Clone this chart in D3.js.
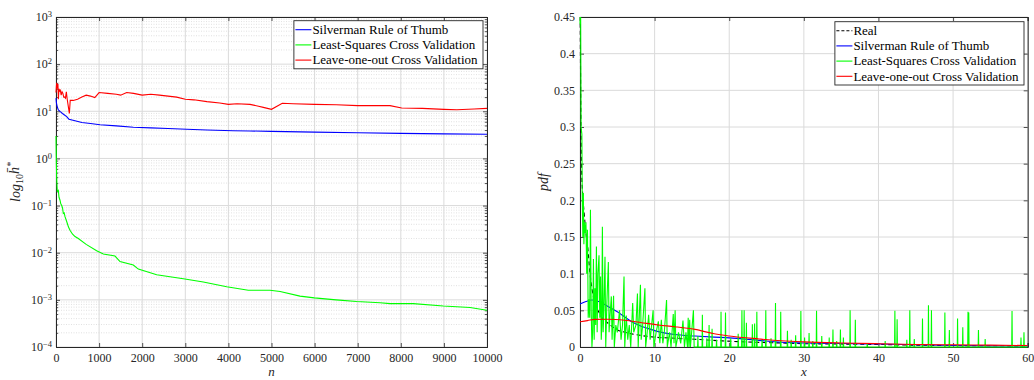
<!DOCTYPE html>
<html><head><meta charset="utf-8">
<script src="https://cdn.jsdelivr.net/npm/d3@7"></script>
<style>body{margin:0;background:#fff}svg{display:block}svg text{font-family:"Liberation Serif","Times New Roman","DejaVu Serif",serif !important;fill:#262626}</style>
</head><body>
<script>
// ---------- Left panel data ----------
const silvN = [0,10,30,54,100,150,248,300,441,600,800,1021,1400,1795,2200,2600,3032,3500,4114,4500,5000,6000,7000,8000,9000,10000];
const silvH = [19,15,12.3,10.7,9.8,9,7.7,6.8,6.3,5.8,5.5,5.2,4.9,4.6,4.45,4.3,4.15,4.0,3.87,3.82,3.75,3.62,3.5,3.4,3.32,3.25];
const lscvN = [0,8,18,30,54,70,93,110,132,150,170,190,209,248,290,325,380,441,518,700,943,1098,1369,1485,1794,1910,2336,2954,3418,3960,4462,4965,5200,5661,5993,6500,6976,7517,7750,8290,8987,9606,10000];
const lscvH = [3,0.8,0.35,0.2,0.21,0.15,0.13,0.11,0.1,0.09,0.068,0.07,0.058,0.046,0.035,0.03,0.025,0.022,0.02,0.015,0.011,0.0094,0.0085,0.0065,0.0055,0.0045,0.0034,0.0028,0.0024,0.0019,0.0016,0.0016,0.0015,0.0012,0.0011,0.001,0.00092,0.00087,0.00083,0.00083,0.00074,0.00069,0.0006];
const looN = [0,15,30,45,55,70,85,100,120,140,160,180,200,220,240,260,290,310,330,360,400,500,600,700,800,900,1000,1200,1400,1500,1640,1800,2000,2200,2400,2600,2800,3000,3200,3500,3800,4000,4200,4500,4700,4810,5000,5250,5500,6000,6500,7000,7500,7750,8020,8500,9000,9300,9700,10000];
const looH = [25,40,30,38,18,30,27,28,22,26,24,20,20,19,26,18,12,9,17,17,17,18,20,22,21,19.5,25,24,23,22,25,24,22,23,22,21,20,18,17.5,16,15,14,14.5,14,12.8,12.1,11,14.8,14.5,14,13.8,13.2,13.2,13.2,11.7,11.5,11,10.8,11.2,11.5];
const leftXTicks = [0,1000,2000,3000,4000,5000,6000,7000,8000,9000,10000];
const leftYExps = [-4,-3,-2,-1,0,1,2,3];
const leftLegend = ["Silverman Rule of Thumb","Least-Squares Cross Validation","Leave-one-out Cross Validation"];

// ---------- Right panel data ----------
const realX = [0.02,0.07,0.13,0.22,0.35,0.58,0.8,1.03,1.34,1.6,2.0,2.5,2.9,3.8,5.1,6.5,8.3,10,12.7,15.4,18.8,22,26.8,30,35,40,45,50,55,60];
const realY = [0.46,0.38,0.30,0.24,0.21,0.18,0.155,0.137,0.10,0.08,0.06,0.048,0.041,0.032,0.023,0.019,0.0155,0.0135,0.012,0.0105,0.0085,0.007,0.0055,0.0045,0.004,0.0035,0.0025,0.002,0.0017,0.0015];
const silvX = [0,0.8,1.6,2.5,3.8,5,6,7,8.3,9.5,10.5,12.7,15.4,18,20,24,27,30,35,40,45,50,55,60];
const silvY = [0.0586,0.062,0.064,0.062,0.055,0.048,0.041,0.034,0.028,0.024,0.021,0.017,0.015,0.0135,0.0125,0.009,0.0065,0.0055,0.0048,0.004,0.003,0.002,0.0016,0.0013];
const looX = [0,1,2,3.8,6,8.3,10.5,12.7,15.4,18,20,24,27,30,35,40,45,50,55,60];
const looY = [0.0345,0.036,0.0377,0.0378,0.0364,0.033,0.030,0.0277,0.024,0.018,0.015,0.011,0.0085,0.007,0.0055,0.0045,0.0035,0.003,0.0025,0.002];
const lscvDenseX = [0,0.08,0.15,0.25,0.3,0.38,0.45,0.52,0.6,0.7,0.8,0.9,1.0,1.1,1.2,1.3,1.4,1.5,1.6,1.7,1.8,1.9,2.0,2.1,2.2,2.3,2.4,2.55,2.65,2.75,2.85,2.92,3.0,3.1,3.2,3.35,3.45,3.6,3.8,3.9,4.0,4.2,4.3,4.5,4.6,4.8,5.0,5.3,5.5,5.7,5.9,6.0,6.2,6.4,6.6,6.8,7.06,7.2,7.5,7.7,7.8,8.1,8.2,8.4,8.7,8.8,9.0,9.2,9.4,9.8,9.9,10.2,10.5,10.7,10.9,11.1,11.3,11.6,11.7,12.0,12.2,12.5,12.6,12.75,12.85,13.2,13.5,13.8,14.0,14.2,14.4,14.5,14.6,14.7,14.8,15.2,15.3];
const lscvDenseY = [0.44,0.47,0.30,0.29,0.205,0.15,0.21,0.14,0.17,0.155,0.17,0.10,0.16,0.04,0.065,0.04,0.187,0.05,0.0,0.02,0.12,0.01,0.08,0.03,0.137,0.02,0.1,0.125,0.04,0.096,0.01,0.03,0.164,0.02,0.05,0.123,0.0,0.06,0.116,0.02,0.04,0.069,0.01,0.07,0.0,0.03,0.02,0.05,0.01,0.03,0.096,0.0,0.043,0.01,0.03,0.0,0.06,0.02,0.03,0.073,0.0,0.085,0.01,0.03,0.08,0.0,0.02,0.044,0.01,0.05,0.0,0.02,0.035,0.005,0.037,0.005,0.02,0.064,0.0,0.02,0.0,0.045,0.005,0.05,0.0,0.02,0.005,0.036,0.0,0.02,0.0,0.04,0.0,0.037,0.0,0.05,0.0];
const lscvSpikeX = [15.8,16.4,17.0,17.3,17.7,18.3,18.9,19.5,20.2,21.2,21.7,22.0,22.3,23.1,23.4,23.7,24.4,24.9,25.6,26.2,26.9,27.8,28.3,28.9,29.6,30.1,30.7,31.2,31.7,32.4,33.4,33.9,34.4,34.9,35.3,36.2,36.9,38.5,40.9,42.2,42.5,43.8,44.2,44.8,45.9,46.7,47.1,48.9,49.5,50.6,51.3,52.0,52.1,53.4,54.3,57.9,59.1,59.5];
const lscvSpikeY = [0.015,0.044,0.012,0.03,0.025,0.01,0.048,0.047,0.012,0.018,0.05,0.05,0.033,0.031,0.032,0.048,0.01,0.05,0.012,0.06,0.048,0.022,0.01,0.016,0.049,0.013,0.019,0.008,0.0495,0.015,0.013,0.024,0.008,0.024,0.013,0.05,0.037,0.005,0.008,0.0495,0.038,0.01,0.05,0.011,0.039,0.057,0.05,0.047,0.023,0.039,0.027,0.048,0.047,0.023,0.011,0.049,0.013,0.02];
const rightXTicks = [0,10,20,30,40,50,60];
const rightYTicks = [0,0.05,0.1,0.15,0.2,0.25,0.3,0.35,0.4,0.45];
const rightLegend = ["Real","Silverman Rule of Thumb","Least-Squares Cross Validation","Leave-one-out Cross Validation"];

const FONT = '"Liberation Serif","Times New Roman","DejaVu Serif",serif';
const svg = d3.select("body").append("svg").attr("width",1034).attr("height",380).style("font-family",FONT);
const AX = "#262626", GRID = "#dadada", MINOR = "#cccccc";

function styleAxis(g){
  g.attr("font-family",null).attr("font-size",null);
  g.select(".domain").attr("stroke",AX).attr("stroke-width",1);
  g.selectAll(".tick line").attr("stroke",AX).attr("stroke-width",0.8);
  g.selectAll("text").style("font-family",FONT).attr("font-size",12).attr("fill",AX);
}

// ============ LEFT PANEL ============
const L = {x0:56,x1:487,y0:17,y1:347};
const lx = d3.scaleLinear().domain([0,10000]).range([L.x0,L.x1]);
const ly = d3.scaleLog().domain([1e-4,1e3]).range([L.y1,L.y0]);
const lg = svg.append("g");
const lMinor = [];
leftYExps.slice(0,-1).forEach(e=>{for(let k=2;k<=9;k++) lMinor.push(k*Math.pow(10,e));});
lg.append("g").selectAll("line").data(lMinor).join("line")
  .attr("x1",L.x0).attr("x2",L.x1).attr("y1",d=>ly(d)).attr("y2",d=>ly(d))
  .attr("stroke",MINOR).attr("stroke-width",0.6).attr("stroke-dasharray","1,1.5");
lg.append("g").selectAll("line").data(leftYExps.map(e=>Math.pow(10,e))).join("line")
  .attr("x1",L.x0).attr("x2",L.x1).attr("y1",d=>ly(d)).attr("y2",d=>ly(d))
  .attr("stroke",GRID).attr("stroke-width",1);
lg.append("g").selectAll("line").data(leftXTicks).join("line")
  .attr("x1",d=>lx(d)).attr("x2",d=>lx(d)).attr("y1",L.y0).attr("y2",L.y1)
  .attr("stroke",GRID).attr("stroke-width",1);

// axes
lg.append("g").attr("transform",`translate(0,${L.y1})`).call(d3.axisBottom(lx).tickValues(leftXTicks).tickSize(-4).tickPadding(6).tickFormat(d3.format("d"))).call(styleAxis);
lg.append("g").attr("transform",`translate(0,${L.y0})`).call(d3.axisTop(lx).tickValues(leftXTicks).tickSize(-4).tickFormat("")).call(styleAxis);
const yAxL = lg.append("g").attr("transform",`translate(${L.x0},0)`).call(d3.axisLeft(ly).tickValues(leftYExps.map(e=>Math.pow(10,e))).tickSize(-4).tickPadding(6).tickFormat("")).call(styleAxis);
yAxL.selectAll(".tick").each(function(d){
  const t=d3.select(this).select("text").attr("text-anchor","end").attr("dy","0.32em").attr("x",-4);
  const e=Math.round(Math.log10(d));
  t.append("tspan").text("10");
  t.append("tspan").attr("dy","-0.5em").attr("font-size",8.5).text(e<0?"\u2212"+(-e):String(e));
});
lg.append("g").attr("transform",`translate(${L.x0},0)`).call(d3.axisLeft(ly).tickValues(lMinor).tickSize(-2.2).tickFormat("")).call(styleAxis).select(".domain").remove();
lg.append("g").attr("transform",`translate(${L.x1},0)`).call(d3.axisRight(ly).tickValues(leftYExps.map(e=>Math.pow(10,e))).tickSize(-4).tickFormat("")).call(styleAxis);
lg.append("g").attr("transform",`translate(${L.x1},0)`).call(d3.axisRight(ly).tickValues(lMinor).tickSize(-2.2).tickFormat("")).call(styleAxis).select(".domain").remove();

svg.append("clipPath").attr("id","clipL").append("rect").attr("x",L.x0-1).attr("y",L.y0).attr("width",L.x1-L.x0+1).attr("height",L.y1-L.y0);
const lline = d3.line().x(d=>lx(d[0])).y(d=>ly(d[1]));
const lp = lg.append("g").attr("clip-path","url(#clipL)");
lp.append("path").datum(silvN.map((n,i)=>[n,silvH[i]])).attr("d",lline).attr("fill","none").attr("stroke","#0000ff").attr("stroke-width",1.1);
lp.append("path").datum(lscvN.map((n,i)=>[n,lscvH[i]])).attr("d",lline).attr("fill","none").attr("stroke","#00ff00").attr("stroke-width",1.1);
lp.append("path").datum(looN.map((n,i)=>[n,looH[i]])).attr("d",lline).attr("fill","none").attr("stroke","#ff0000").attr("stroke-width",1.1);

// labels
lg.append("text").attr("x",(L.x0+L.x1)/2).attr("y",376).attr("text-anchor","middle").attr("font-size",13).attr("font-style","italic").text("n");
const ylab = lg.append("text").attr("transform",`translate(20,${(L.y0+L.y1)/2}) rotate(-90)`).attr("text-anchor","middle").attr("font-size",14).attr("font-style","italic");
ylab.append("tspan").text("log");
ylab.append("tspan").attr("dy","0.3em").attr("font-size",10).attr("font-style","normal").text("10");
ylab.append("tspan").attr("dy","-0.3em").text("h\u0304");
ylab.append("tspan").attr("dy","-0.5em").attr("font-size",10).text("*");

// legend helper
function legend(g, items, colors, dashes, xRight, yTop){
  const rowH = 15.2, pad = 3;
  const lg2 = g.append("g");
  const box = lg2.append("rect").attr("fill","#fff").attr("stroke",AX).attr("stroke-width",0.9);
  const texts = [];
  items.forEach((s,i)=>{
    const y = yTop + 9 + i*rowH;
    texts.push(lg2.append("text").attr("x",0).attr("y",y+4.3).attr("font-size",13).style("fill","#000").text(s));
  });
  const w = d3.max(texts,t=>t.node().getComputedTextLength());
  const boxW = w + 18 + 2*pad;
  const x0 = xRight - boxW;
  box.attr("x",x0).attr("y",yTop).attr("width",boxW).attr("height",items.length*rowH+2.5);
  texts.forEach(t=>t.attr("x",x0+pad+15.5));
  items.forEach((s,i)=>{
    const y = yTop + 9 + i*rowH;
    lg2.append("line").attr("x1",x0+1.5).attr("x2",x0+pad+14.5).attr("y1",y).attr("y2",y)
      .attr("stroke",colors[i]).attr("stroke-width",1.1).attr("stroke-dasharray",dashes[i]);
  });
}
legend(lg, leftLegend, ["#0000ff","#00ff00","#ff0000"], [null,null,null], 483, 20.7);

// ============ RIGHT PANEL ============
const R = {x0:580,x1:1027.7,y0:17,y1:347};
const rx = d3.scaleLinear().domain([0,60]).range([R.x0,R.x1]);
const ry = d3.scaleLinear().domain([0,0.45]).range([R.y1,R.y0]);
const rg = svg.append("g");
rg.append("g").selectAll("line").data(rightYTicks).join("line")
  .attr("x1",R.x0).attr("x2",R.x1).attr("y1",d=>ry(d)).attr("y2",d=>ry(d)).attr("stroke",GRID).attr("stroke-width",1);
rg.append("g").selectAll("line").data(rightXTicks).join("line")
  .attr("x1",d=>rx(d)).attr("x2",d=>rx(d)).attr("y1",R.y0).attr("y2",R.y1).attr("stroke",GRID).attr("stroke-width",1);

const fmtR = v => v===0 ? "0" : String(+v.toFixed(2));
rg.append("g").attr("transform",`translate(0,${R.y1})`).call(d3.axisBottom(rx).tickValues(rightXTicks).tickSize(-4).tickPadding(6).tickFormat(d3.format("d"))).call(styleAxis);
rg.append("g").attr("transform",`translate(0,${R.y0})`).call(d3.axisTop(rx).tickValues(rightXTicks).tickSize(-4).tickFormat("")).call(styleAxis);
rg.append("g").attr("transform",`translate(${R.x0},0)`).call(d3.axisLeft(ry).tickValues(rightYTicks).tickSize(-4).tickPadding(5).tickFormat(fmtR)).call(styleAxis);
rg.append("g").attr("transform",`translate(${R.x1},0)`).call(d3.axisRight(ry).tickValues(rightYTicks).tickSize(-4).tickFormat("")).call(styleAxis);

svg.append("clipPath").attr("id","clipR").append("rect").attr("x",R.x0-1).attr("y",R.y0).attr("width",R.x1-R.x0+1).attr("height",R.y1-R.y0+1);
const rline = d3.line().x(d=>rx(d[0])).y(d=>ry(d[1]));
const rcurve = d3.line().curve(d3.curveMonotoneX).x(d=>rx(d[0])).y(d=>ry(d[1]));
const rp = rg.append("g").attr("clip-path","url(#clipR)");
// LSCV: dense part, then narrow spikes on a zero baseline
const lscvPts = lscvDenseX.map((x,i)=>[x,lscvDenseY[i]]);
lscvSpikeX.forEach((x,i)=>{lscvPts.push([x-0.04,0],[x,lscvSpikeY[i]],[x+0.04,0]);});
lscvPts.push([60,0]);
rp.append("path").datum(realX.map((x,i)=>[x,realY[i]])).attr("d",rcurve).attr("fill","none").attr("stroke","#000").attr("stroke-width",1.1).attr("stroke-dasharray","4,3");
rp.append("path").datum(silvX.map((x,i)=>[x,silvY[i]])).attr("d",rcurve).attr("fill","none").attr("stroke","#0000ff").attr("stroke-width",1.1);
rp.append("path").datum(lscvPts).attr("d",rline).attr("fill","none").attr("stroke","#00ff00").attr("stroke-width",1.1);
rp.append("path").datum(looX.map((x,i)=>[x,looY[i]])).attr("d",rcurve).attr("fill","none").attr("stroke","#ff0000").attr("stroke-width",1.1);

rg.append("text").attr("x",(R.x0+R.x1)/2).attr("y",376).attr("text-anchor","middle").attr("font-size",13).attr("font-style","italic").text("x");
rg.append("text").attr("transform",`translate(548,${(R.y0+R.y1)/2}) rotate(-90)`).attr("text-anchor","middle").attr("font-size",14).attr("font-style","italic").text("pdf");

legend(rg, rightLegend, ["#000","#0000ff","#00ff00","#ff0000"], ["3,2",null,null,null], 1024, 21.7);
</script>
</body></html>
